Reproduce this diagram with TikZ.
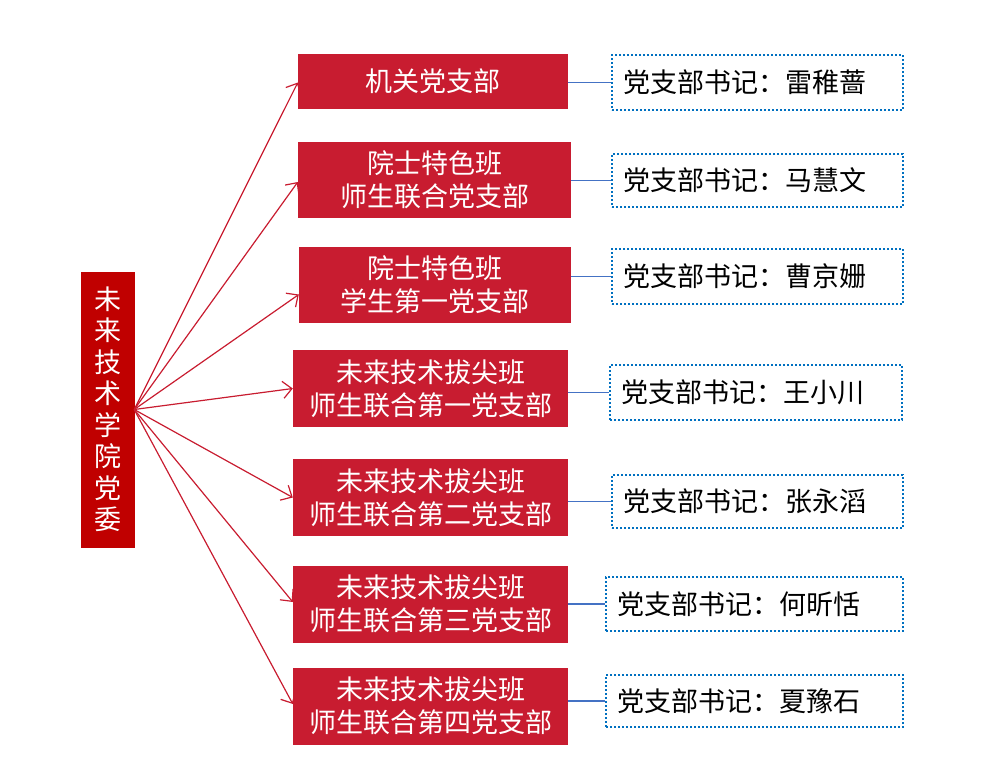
\documentclass[tikz,border=0pt]{standalone}
\usepackage{fontspec}
\usepackage{tikz}
\usetikzlibrary{arrows.meta}
\setmainfont{Noto Sans CJK SC}
\definecolor{crim}{RGB}{200, 28, 48}
\definecolor{dark}{RGB}{192, 0, 0}
\definecolor{link}{RGB}{68, 114, 196}
\definecolor{dots}{RGB}{0, 112, 192}

\begin{document}
\begin{tikzpicture}[
   x=1pt, y=-1pt,
   party/.style={rectangle, draw=dark, fill=dark, text=white, inner sep=0,
                 minimum width=53, minimum height=275, align=center,
                 font=\fontsize{27}{31.5}\selectfont},
   branch/.style={rectangle, fill=crim, text=white, inner sep=0,
                  minimum height=77, align=center,
                  font=\fontsize{27}{33}\selectfont},
   sec/.style={rectangle, draw=dots, line width=2, dash pattern=on 2pt off 2pt,
               fill=white, text=black, inner xsep=11, inner ysep=0,
               minimum height=54, text width=#1, align=left,
               font=\fontsize{27}{33}\selectfont}
  ]

  \useasboundingbox (0, 0) rectangle (999, 763);

  \node (P) at (107.5, 409.5) [party] {未\\来\\技\\术\\学\\院\\党\\委};

  \node (B1) at (433, 81.5) [branch, minimum width=270, minimum height=55] {机关党支部};
  \node (B2) at (434.5, 180) [branch, minimum width=273, minimum height=76] {院士特色班\\师生联合党支部};
  \node (B3) at (435, 284.5) [branch, minimum width=272, minimum height=76] {院士特色班\\学生第一党支部};
  \node (B4) at (430.5, 388.5) [branch, minimum width=275] {未来技术拔尖班\\师生联合第一党支部};
  \node (B5) at (430.5, 497.5) [branch, minimum width=275] {未来技术拔尖班\\师生联合第二党支部};
  \node (B6) at (430.5, 604) [branch, minimum width=275] {未来技术拔尖班\\师生联合第三党支部};
  \node (B7) at (430.5, 706) [branch, minimum width=275] {未来技术拔尖班\\师生联合第四党支部};

  \node (S1) at (757.5, 82.5) [sec=269, minimum height=55] {党支部书记：雷稚蔷};
  \node (S2) at (757.5, 180.5) [sec=269, minimum height=53] {党支部书记：马慧文};
  \node (S3) at (757.5, 276.5) [sec=269, minimum height=55] {党支部书记：曹京姗};
  \node (S4) at (756, 392.5) [sec=270, minimum height=55] {党支部书记：王小川};
  \node (S5) at (757.5, 501.5) [sec=269, minimum height=53] {党支部书记：张永滔};
  \node (S6) at (754.5, 604) [sec=275] {党支部书记：何昕恬};
  \node (S7) at (754.5, 701) [sec=275, minimum height=52] {党支部书记：夏豫石};

  \foreach \E/\s in {B1/-1, B2/-2, B3/-10, B4/0, B5/0, B6/2, B7/2} {
    \draw[-{Straight Barb[length=9pt, width=17pt]}, color=crim, line width=1.2]
      (P.east) -- ([yshift=\s pt]\E.west);
  }

  \foreach \i in {1,...,7} {
    \draw[color=link, line width=1.5] (S\i.west -| B\i.east) -- (S\i.west);
  }

\end{tikzpicture}
\end{document}
